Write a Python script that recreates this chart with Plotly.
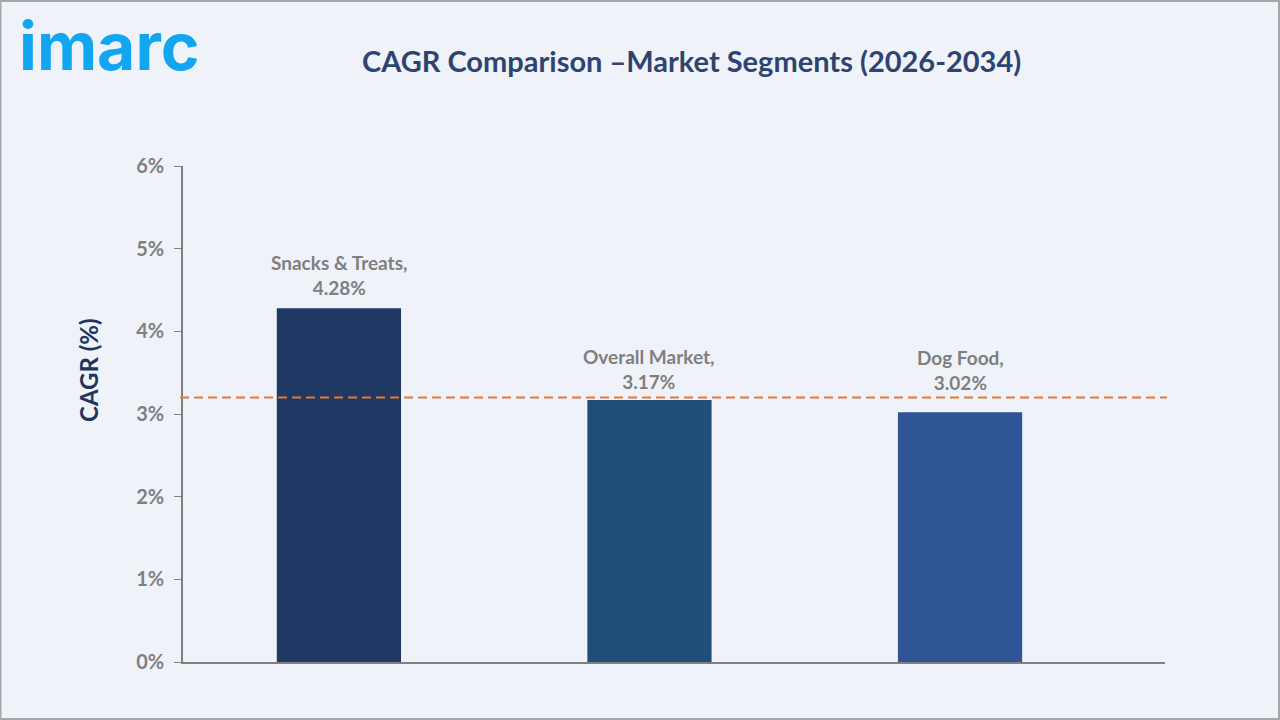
import plotly.graph_objects as go

categories = ["Snacks & Treats", "Overall Market", "Dog Food"]
cagr_values = [4.28, 3.17, 3.02]
bar_colors = ["#203864", "#1f4e79", "#2f5597"]
reference_line = 3.2
y_ticks = [0, 1, 2, 3, 4, 5, 6]
y_tick_labels = ["0%", "1%", "2%", "3%", "4%", "5%", "6%"]

W, H = 1280, 720
ml, mr, mt, mb = 183, 115, 166, 58
pw, ph = W - ml - mr, H - mt - mb
label_shifts = [7, 5, 16]

fig = go.Figure()
fig.add_trace(go.Bar(
    x=list(range(len(categories))),
    y=cagr_values,
    marker=dict(color=bar_colors, line=dict(width=0)),
    width=0.4,
    hoverinfo="skip",
))

for i, (c, v) in enumerate(zip(categories, cagr_values)):
    fig.add_annotation(x=i, y=v, xref="x", yref="y",
                       text=f"<b>{c},</b><br><b>{v:.2f}%</b>",
                       showarrow=False, xanchor="center", yanchor="bottom",
                       yshift=label_shifts[i], align="center",
                       font=dict(family="Lato", size=19, color="#7f7f7f"))

fig.add_shape(type="line", xref="paper", yref="y",
              x0=-0.003, x1=1.002, y0=reference_line, y1=reference_line,
              line=dict(color="#e07b39", width=2, dash="9px,5px"))

# outer frame
fig.add_shape(type="rect", xref="paper", yref="paper",
              x0=-ml / pw + 0.5 / pw, x1=1 + (mr - 1) / pw,
              y0=-mb / ph + 1 / ph, y1=1 + (mt - 1) / ph,
              line=dict(color="#a6a6a6", width=2), layer="below")

fig.add_annotation(text="<b>imarc</b>", xref="paper", yref="paper",
                   x=(17 - ml) / pw, y=1 + (mt - 46) / ph,
                   xanchor="left", yanchor="middle", showarrow=False,
                   font=dict(family="Inter", size=66, color="#12a5f0"))

fig.add_annotation(text="<b>CAGR Comparison –Market Segments (2026-2034)</b>",
                   xref="paper", yref="paper",
                   x=(691 - ml) / pw, y=1 + (mt - 60) / ph,
                   xanchor="center", yanchor="middle", showarrow=False,
                   font=dict(family="Lato", size=29, color="#2e4470"))

fig.add_annotation(text="<b>CAGR (%)</b>", xref="paper", yref="paper",
                   x=(88 - ml) / pw, y=(H - mb - 370) / ph,
                   xanchor="center", yanchor="middle", textangle=-90,
                   showarrow=False,
                   font=dict(family="Lato", size=24, color="#1f3560"))

fig.update_layout(
    width=W, height=H,
    margin=dict(l=ml, r=mr, t=mt, b=mb),
    paper_bgcolor="#eff3f9",
    plot_bgcolor="#eff3f9",
    showlegend=False,
    xaxis=dict(range=[-0.502, 2.66], showticklabels=False, ticks="",
               showgrid=False, zeroline=False, showline=True,
               linecolor="#808080", linewidth=1.5),
    yaxis=dict(range=[0, 6], tickvals=y_ticks, ticktext=y_tick_labels,
               ticks="outside", ticklen=7, tickcolor="#808080",
               ticklabelstandoff=6,
               showgrid=False, zeroline=False, showline=True,
               linecolor="#808080", linewidth=1.5,
               tickfont=dict(family="Lato", size=20, color="#7f7f7f", weight="bold")),
)

fig.write_html("out.html")
